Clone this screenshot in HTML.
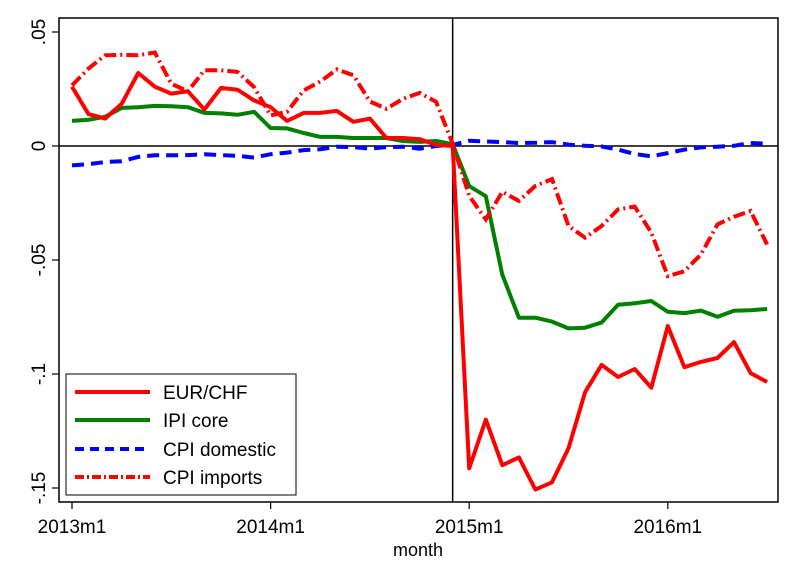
<!DOCTYPE html>
<html><head><meta charset="utf-8"><style>
body{margin:0;background:#fff}
svg text{font-family:"Liberation Sans",Arial,sans-serif;fill:#000}
</style></head><body>
<svg id="chart" width="800" height="582" xmlns="http://www.w3.org/2000/svg">
<rect x="0" y="0" width="800" height="582" fill="#fff"/>
<rect x="59" y="18" width="719" height="484" fill="none" stroke="#000" stroke-width="1.5"/>
<g id="axes"></g>
<g id="series"></g>
<text x="418" y="556" font-size="18" text-anchor="middle">month</text>
<g>
<rect x="66" y="374" width="230" height="121" fill="#fff" stroke="#000" stroke-width="1"/>
<line x1="75" y1="392" x2="150" y2="392" stroke="#f00" stroke-width="4"/>
<text x="163" y="399" font-size="19">EUR/CHF</text>
<line x1="75" y1="420" x2="150" y2="420" stroke="#008000" stroke-width="4"/>
<text x="163" y="427" font-size="19">IPI core</text>
<line x1="75" y1="449" x2="150" y2="449" stroke="#00f" stroke-width="4" stroke-dasharray="9,6"/>
<text x="163" y="456" font-size="19">CPI domestic</text>
<line x1="75" y1="477" x2="150" y2="477" stroke="#f00" stroke-width="4" stroke-dasharray="9,3,2,3"/>
<text x="163" y="484" font-size="19">CPI imports</text>
</g>
</svg>
<script>
const months = 43;
const xTickLabels = ["2013m1","2014m1","2015m1","2016m1"];
const xTickIdx = [0,12,24,36];
const yTickVals = [0.05,0,-0.05,-0.1,-0.15];
const yTickLabels = [".05","0","-.05","-.1","-.15"];
const eurchf = [.026,.014,.012,.0185,.032,.026,.023,.024,.016,.0255,.0247,.020,.017,.011,.0145,.0145,.0154,.0106,.012,.0035,.0035,.003,.0005,0,
 -.1414,-.120,-.140,-.1366,-.1507,-.1475,-.1326,-.108,-.096,-.1013,-.0978,-.106,-.079,-.097,-.0947,-.093,-.086,-.0996,-.1035];
const ipiCore = [.011,.0115,.0128,.0167,.017,.0176,.0174,.017,.0145,.0143,.0137,.015,.0079,.0077,.0057,.004,.004,.0035,.0035,.0035,.0022,.0018,.0022,.0008,
 -.0176,-.022,-.0564,-.0753,-.0753,-.077,-.080,-.0797,-.0774,-.0696,-.069,-.068,-.0727,-.0733,-.0722,-.0749,-.0723,-.072,-.0715];
const cpiDomestic = [-.0085,-.008,-.007,-.0067,-.0048,-.0041,-.0041,-.004,-.0036,-.004,-.0043,-.0051,-.0036,-.0029,-.0018,-.0014,-.0003,-.0005,-.0012,-.0005,-.0003,-.0012,0,.0005,
 .0023,.002,.0017,.0013,.0014,.0017,.0006,.0001,-.0002,-.0016,-.0035,-.0045,-.0031,-.0016,-.0006,-.0003,.0001,.0013,.001];
const cpiImports = [.0266,.034,.0398,.040,.0398,.041,.0273,.024,.0332,.0332,.0325,.0258,.0134,.015,.0244,.0283,.0336,.031,.0195,.0163,.0207,.0233,.0194,.001,
 -.0219,-.0322,-.0201,-.0241,-.0175,-.0145,-.0351,-.0402,-.0351,-.0278,-.0266,-.038,-.0571,-.0549,-.0476,-.0344,-.031,-.0285,-.0432];
const breakIdx = 23;

const NS="http://www.w3.org/2000/svg";
function X(i){return 72+i*16.55;}
function Y(v){return 146-v*2280;}
function mk(tag,attrs,parent){const e=document.createElementNS(NS,tag);for(const k in attrs)e.setAttribute(k,attrs[k]);parent.appendChild(e);return e;}
const axes=document.getElementById('axes'), ser=document.getElementById('series');
yTickVals.forEach((v,i)=>{
  const t=mk('line',{x1:52,x2:59,y1:Y(v),y2:Y(v),stroke:'#000','stroke-width':1.2},axes);
  
  
  const tx=mk('text',{x:0,y:0,'font-size':19,'text-anchor':'middle',transform:`translate(45,${Y(v)}) rotate(-90)`},axes);
  tx.textContent=yTickLabels[i];
  
  
});
xTickIdx.forEach((m,i)=>{
  const t=mk('line',{x1:X(m),x2:X(m),y1:502,y2:509,stroke:'#000','stroke-width':1.2},axes);
  
  
  const tx=mk('text',{x:X(m),y:533,'font-size':19,'text-anchor':'middle'},axes);
  tx.textContent=xTickLabels[i];
  
  
});
const zl=mk('line',{x1:59,x2:778,y1:Y(0),y2:Y(0),stroke:'#000','stroke-width':1.5},axes);


const vl=mk('line',{x1:X(breakIdx),x2:X(breakIdx),y1:18,y2:502,stroke:'#000','stroke-width':1.5},axes);


function pts(arr){return arr.map((v,i)=>X(i).toFixed(1)+','+Y(v).toFixed(1)).join(' ');}
const s1=mk('polyline',{points:pts(cpiDomestic),fill:'none',stroke:'#00f','stroke-width':4,'stroke-dasharray':'12,7'},ser);


const s2=mk('polyline',{points:pts(ipiCore),fill:'none',stroke:'#008000','stroke-width':4,'stroke-linejoin':'round'},ser);


const s3=mk('polyline',{points:pts(cpiImports),fill:'none',stroke:'#f00','stroke-width':4,'stroke-dasharray':'12,4,2,4'},ser);


const s4=mk('polyline',{points:pts(eurchf),fill:'none',stroke:'#f00','stroke-width':4,'stroke-linejoin':'round'},ser);


</script>
</body></html>
